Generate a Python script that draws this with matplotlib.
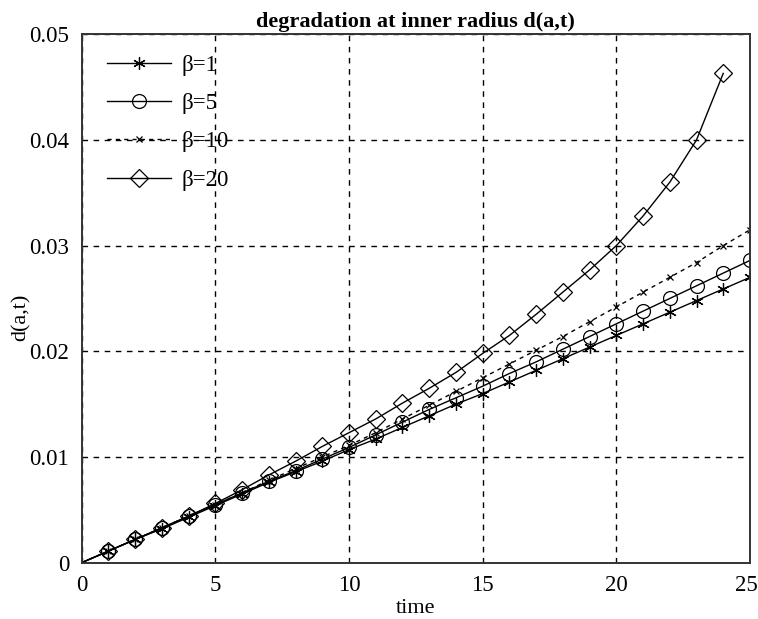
import matplotlib
matplotlib.use("Agg")
import matplotlib.pyplot as plt
from matplotlib.ticker import FuncFormatter
from matplotlib.transforms import ScaledTranslation

plt.rcParams['font.family'] = ['Liberation Serif', 'DejaVu Serif']

# data, time 0..25
t = list(range(0, 26))
d_b1 = [0, 0.0011, 0.0022, 0.0032, 0.0043, 0.0054, 0.0065, 0.0076, 0.0086, 0.0096, 0.0107,
        0.0117, 0.0128, 0.0139, 0.0150, 0.0160, 0.0171, 0.0182, 0.0193, 0.0204, 0.0215,
        0.0226, 0.0237, 0.0248, 0.0259, 0.0270]
d_b5 = [0, 0.0011, 0.0022, 0.0033, 0.0044, 0.0055, 0.0066, 0.0077, 0.0087, 0.0098, 0.0109,
        0.0121, 0.0133, 0.0145, 0.0156, 0.0167, 0.0179, 0.0190, 0.0202, 0.0214, 0.0226,
        0.0238, 0.0250, 0.0262, 0.0274, 0.0286]
d_b10 = [0, 0.0011, 0.0022, 0.0033, 0.0044, 0.0055, 0.0066, 0.0078, 0.0089, 0.0100, 0.0111,
         0.0123, 0.0136, 0.0149, 0.0162, 0.0175, 0.0188, 0.0201, 0.0214, 0.0228, 0.0242,
         0.0256, 0.0270, 0.0284, 0.0300, 0.0315]
t20 = list(range(0, 25))
d_b20 = [0, 0.0011, 0.0022, 0.0033, 0.0044, 0.0056, 0.0069, 0.0083, 0.0096, 0.0110, 0.0123,
         0.0136, 0.0151, 0.0165, 0.0180, 0.0198, 0.0215, 0.0235, 0.0256, 0.0277, 0.0300,
         0.0328, 0.0360, 0.0400, 0.0463]

labels = ['β=1', 'β=5', 'β=10', 'β=20']

fig = plt.figure(figsize=(7.58, 6.19), dpi=100)
ax = fig.add_axes([0.1078, 0.0910, 0.8816, 0.8536])

mev = range(1, 26)
ax.plot(t, d_b1, color='black', lw=1, marker=(6, 2, 0), ms=9, mew=0.9,
        markevery=mev, label=labels[0])
ax.plot(t, d_b5, color='black', lw=1, marker='o', ms=10, mfc='none', mew=0.9,
        markevery=mev, label=labels[1])
ax.plot(t, d_b10, color='black', lw=1, ls=(0, (3, 3)), marker='x', ms=5, mew=0.9,
        markevery=mev, label=labels[2])
ax.plot(t20, d_b20, color='black', lw=1, marker='D', ms=9, mfc='none', mew=0.9,
        markevery=range(1, 25), label=labels[3])

ax.set_xlim(0, 25)
ax.set_ylim(0, 0.05)
ax.set_xticks([0, 5, 10, 15, 20, 25])
ax.set_yticks([0, 0.01, 0.02, 0.03, 0.04, 0.05])
fmt = FuncFormatter(lambda v, p: '{:g}'.format(round(v, 4)))
ax.xaxis.set_major_formatter(fmt)
ax.yaxis.set_major_formatter(fmt)
ax.tick_params(length=0, labelsize=16.5)
ax.tick_params(axis='x', pad=9)
ax.tick_params(axis='y', pad=9)
ax.grid(True, color='black', ls=(0, (4, 4)), lw=1)
for s in ax.spines.values():
    s.set_linewidth(1.4)
    s.set_color('#333333')

# keep the last x label inside the figure
fig.canvas.draw()
last = ax.get_xticklabels()[-1]
last.set_transform(last.get_transform() + ScaledTranslation(-4 / 100, 0, fig.dpi_scale_trans))

ax.set_xlabel('time', fontsize=16, labelpad=2)
ax.set_ylabel('d(a,t)', fontsize=16)
ax.yaxis.set_label_coords(-0.076, 0.465)
ax.set_title('degradation at inner radius d(a,t)', fontsize=16, fontweight='bold', pad=5)

leg = ax.legend(loc='upper left', bbox_to_anchor=(0.007, 1.0), frameon=False,
                fontsize=16.5, handlelength=2.8, handletextpad=0.45, labelspacing=0.75,
                borderaxespad=0.6, borderpad=0.3)

fig.savefig('out.png', dpi=100)
